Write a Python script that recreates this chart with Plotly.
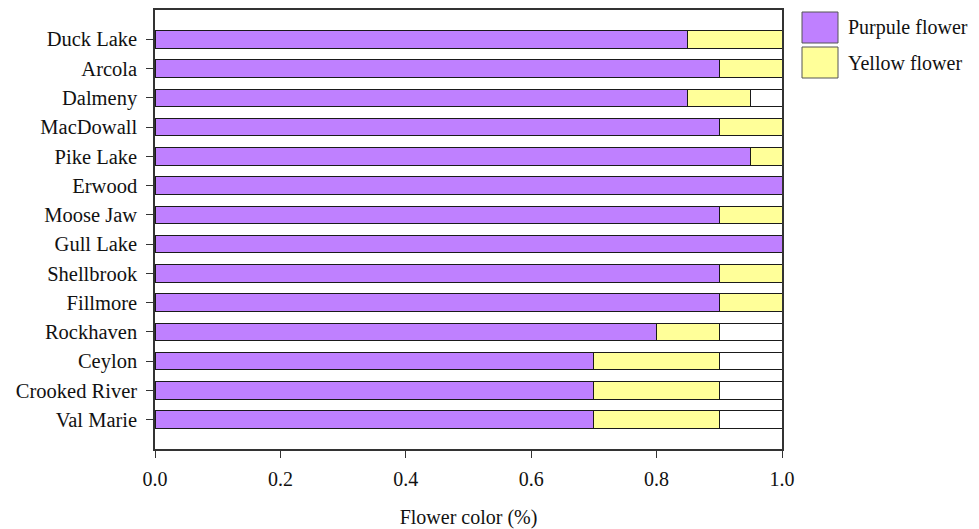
import plotly.graph_objects as go

sites = ["Duck Lake", "Arcola", "Dalmeny", "MacDowall", "Pike Lake", "Erwood",
         "Moose Jaw", "Gull Lake", "Shellbrook", "Fillmore", "Rockhaven",
         "Ceylon", "Crooked River", "Val Marie"]
purple = [0.85, 0.90, 0.85, 0.90, 0.95, 1.00, 0.90, 1.00, 0.90, 0.90, 0.80, 0.70, 0.70, 0.70]
yellow = [0.15, 0.10, 0.10, 0.10, 0.05, 0.00, 0.10, 0.00, 0.10, 0.10, 0.10, 0.20, 0.20, 0.20]
other = [0.00, 0.00, 0.05, 0.00, 0.00, 0.00, 0.00, 0.00, 0.00, 0.00, 0.10, 0.10, 0.10, 0.10]
x_ticks = [0.0, 0.2, 0.4, 0.6, 0.8, 1.0]

PURPLE = "#BF80FF"
YELLOW = "#FFFF99"
EDGE = "#1a1a1a"
FONT = "Times New Roman, Liberation Serif, serif"

# page body has an 8px offset; compensate in margins
OFF = 8
L, T, PW, PH = 155 - OFF, 10 - OFF, 627, 439
W, H = 979, 529

fig = go.Figure()
for name, vals, col in [("Purpule flower", purple, PURPLE),
                        ("Yellow flower", yellow, YELLOW),
                        ("Other", other, "white")]:
    fig.add_trace(go.Bar(y=sites, x=vals, name=name, orientation="h",
                         marker=dict(color=col, line=dict(color=EDGE, width=1)),
                         width=0.6, showlegend=False))

fig.update_layout(
    barmode="stack",
    width=W, height=H,
    margin=dict(l=L, r=W - L - PW, t=T, b=H - T - PH, autoexpand=False),
    plot_bgcolor="white", paper_bgcolor="white",
    font=dict(family=FONT, size=20, color="#111"),
    showlegend=False,
)
fig.update_xaxes(range=[0, 1], tickvals=x_ticks, ticktext=[f"{v:.1f}" for v in x_ticks],
                 ticks="outside", ticklen=7, tickcolor="#333", showline=True, linecolor="#333",
                 linewidth=1.5, mirror=True, showgrid=False, zeroline=False,
                 ticklabelstandoff=4,
                 tickfont=dict(size=20), title=dict(text="Flower color (%)", font=dict(size=20), standoff=21))
fig.update_yaxes(type="category", categoryorder="array", categoryarray=sites,
                 range=[14, -1], ticks="outside", ticklen=7, tickcolor="#333",
                 showline=True, linecolor="#333", linewidth=1.5, mirror=True,
                 ticklabelstandoff=5,
                 showgrid=False, zeroline=False, tickfont=dict(size=20.5))

# legend drawn as large swatches (pixel positions converted to paper coords)
def px_x(x):
    return (x - OFF - L) / PW
def px_y(y):
    return (T + PH - (y - OFF)) / PH

for (y0, y1, col, label) in [(12, 43, PURPLE, "Purpule flower"), (47, 78, YELLOW, "Yellow flower")]:
    fig.add_shape(type="rect", xref="paper", yref="paper",
                  x0=px_x(802), x1=px_x(838), y0=px_y(y1), y1=px_y(y0),
                  fillcolor=col, line=dict(color="#555", width=1))
    fig.add_annotation(xref="paper", yref="paper", x=px_x(846), y=px_y((y0 + y1) / 2),
                       text=label, showarrow=False, xanchor="left", yanchor="middle",
                       font=dict(family=FONT, size=20, color="#111"))

fig.write_html("out.html")
